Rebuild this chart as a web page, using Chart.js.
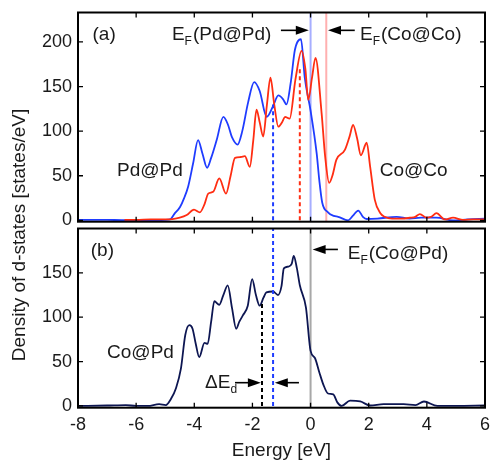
<!DOCTYPE html>
<html>
<head>
<meta charset="utf-8">
<script src="https://cdn.jsdelivr.net/npm/chart.js@4/dist/chart.umd.min.js"></script>
<style>
  html, body { margin: 0; padding: 0; background: #fff; }
  #wrap { position: relative; width: 490px; height: 460px; }
  #wrap canvas { position: absolute; left: 0; top: 0; }
</style>
</head>
<body>
<div id="wrap">
  <canvas id="chartB" width="490" height="460"></canvas>
  <canvas id="chartA" width="490" height="232"></canvas>
</div>
<script>
// tick values
const xTicks = [-8, -6, -4, -2, 0, 2, 4, 6]
const yTicksA = [0, 50, 100, 150, 200]
const yTicksB = [0, 50, 100, 150]

// (a) Pd@Pd d-DOS
const pdPdE = [-8, -7.5, -7, -6.5, -6, -5.5, -5, -4.83, -4.69, -4.49, -4.35, -4.21, -4.04, -3.87, -3.72, -3.56, -3.42,
  -3.23, -3.0, -2.85, -2.7, -2.51, -2.35, -2.15, -1.94, -1.75, -1.51, -1.29, -1.11, -0.95, -0.83, -0.68, -0.54, -0.33, -0.2, 0, 0.21,
  0.3, 0.4, 0.6, 0.8, 0.95, 1.29, 1.45, 1.64, 1.8, 1.93, 2.3, 2.96, 3.4, 3.8, 4.33, 4.9, 5.4, 6]
const pdPdDos = [0.5, 0.5, 0.5, 0.3, 0.3, 0.3, 0.5, 1, 7, 15, 25, 38, 64, 90, 75, 59, 70,
  90, 116, 108, 93, 85, 100, 132, 155, 145, 116, 128, 140, 136, 130, 155, 191, 203, 160, 123, 75,
  45, 20, 9, 5, 4, 0, 5, 11, 4, 1.5, 2, 4, 2, 3, 3, 0, 1, 2]

// (a) Co@Co d-DOS
const coCoE = [-6.4, -6, -5.5, -5, -4.75, -4.5, -4.26, -4.01, -3.81, -3.65, -3.52, -3.35, -3.14, -2.91, -2.75, -2.6, -2.4, -2.26,
  -2.09, -1.97, -1.86, -1.75, -1.63, -1.5, -1.38, -1.25, -1.11, -0.98, -0.88, -0.72, -0.52, -0.31, -0.18, -0.08, 0.05, 0.17,
  0.38, 0.5, 0.64, 0.75, 0.89, 1.18, 1.35, 1.46, 1.6, 1.73, 1.93, 2.05, 2.21, 2.4, 2.55, 2.8, 3.1, 3.43, 3.6, 3.76, 3.99,
  4.15, 4.33, 4.62, 4.9, 5.25, 5.6, 5.97]
const coCoDos = [0.5, 0.5, 1, 1, 1.5, 3, 6, 12, 9, 18, 30, 32, 47, 30, 50, 70, 71, 72,
  60, 90, 124, 110, 94, 130, 160, 130, 105, 110, 116, 114, 158, 190, 170, 135, 160, 182,
  120, 72, 42, 50, 68, 79, 95, 107, 92, 73, 87, 60, 23, 8, 4, 2, 2, 3, 4, 7, 3,
  4, 8, 1, 3, 0.5, 1, 1]

// (b) Co@Pd d-DOS
const coPdE = [-8, -7, -6.36, -6, -5.6, -5.21, -4.98, -4.8, -4.63, -4.46, -4.31, -4.17, -4.06, -3.95, -3.83, -3.65, -3.54, -3.42,
  -3.31, -3.14, -3.0, -2.85, -2.7, -2.56, -2.45, -2.33, -2.16, -2.01, -1.88, -1.75, -1.62, -1.52, -1.29, -1.12, -1.0, -0.92,
  -0.77, -0.65, -0.58, -0.47, -0.37, -0.16, 0, 0.15, 0.3, 0.44, 0.6, 0.78, 0.92, 1.07, 1.36, 1.71, 2.05, 2.51, 3.2, 3.61,
  3.9, 4.36, 5, 6]
const coPdDos = [0, 0.5, 1, 0, 0, 2, 1, 8, 20, 42, 80, 91, 87, 70, 55, 71, 70, 95,
  118, 114, 125, 136, 110, 87, 95, 102, 113, 143, 125, 113, 122, 128, 129, 125, 135, 155,
  157, 160, 169, 155, 136, 111, 62, 54, 38, 24, 14, 13, 4, 0, 6, 5, 0.5, 2, 2, 1,
  5, 0, 0, 0.5]

// Fermi levels and d-band centres [eV], with the height where the dotted marker stops
const fermiCoCo = 0.54
const centrePdPd = -1.29, centrePdPdTop = 130
const centreCoCo = -0.37, centreCoCoTop = 170
const centreCoPd = -1.67, centreCoPdTop = 116

const font = 'Liberation Sans, Arial, Helvetica, sans-serif'
const ink = '#1a1a1a'
const blue = '#1f3cff'
const red = '#ff2d12'
const navy = '#0d1652'

const pts = (xs, ys) => xs.map((x, i) => ({x: x, y: ys[i]}))
const vline = (x, y0, y1) => [{x: x, y: y0}, {x: x, y: y1}]

function curve(data, color, order) {
    return {data: data, borderColor: color, borderWidth: 1.8, pointRadius: 0, cubicInterpolationMode: 'monotone', order: order}
}
function marker(data, color, width, dash, order) {
    return {data: data, borderColor: color, borderWidth: width, borderDash: dash, pointRadius: 0, tension: 0, order: order}
}

function drawArrow(ctx, x0, x1, y) {
    const dir = Math.sign(x1 - x0)
    ctx.beginPath()
    ctx.moveTo(x0, y)
    ctx.lineTo(x1 - dir * 10, y)
    ctx.stroke()
    ctx.beginPath()
    ctx.moveTo(x1, y)
    ctx.lineTo(x1 - dir * 13, y - 4.5)
    ctx.lineTo(x1 - dir * 13, y + 4.5)
    ctx.closePath()
    ctx.fill()
}

function drawLabel(ctx, x, y, l) {
    ctx.font = '19px ' + font
    ctx.fillText(l.text, x, y)
    let w = ctx.measureText(l.text).width
    if (l.sub) {
        ctx.font = '12px ' + font
        ctx.fillText(l.sub, x + w, y + 5)
        w += ctx.measureText(l.sub).width + 1
    }
    if (l.after) {
        ctx.font = '19px ' + font
        ctx.fillText(l.after, x + w, y)
    }
}

const decor = {
    id: 'decor',
    afterDatasetsDraw(chart, args, o) {
        const {ctx, chartArea: a} = chart
        const x = chart.scales.x, y = chart.scales.y
        ctx.save()
        ctx.strokeStyle = '#000'
        ctx.lineWidth = 1.3
        ctx.beginPath()
        xTicks.forEach(v => {
            const p = x.getPixelForValue(v)
            ctx.moveTo(p, a.bottom); ctx.lineTo(p, a.bottom - 5)
            ctx.moveTo(p, a.top); ctx.lineTo(p, a.top + 5)
        })
        o.yTicks.forEach(v => {
            const p = y.getPixelForValue(v)
            ctx.moveTo(a.left, p); ctx.lineTo(a.left + 5, p)
            ctx.moveTo(a.right, p); ctx.lineTo(a.right - 5, p)
        })
        ctx.stroke()
        ctx.lineWidth = 2
        ctx.strokeRect(a.left, a.top, a.right - a.left, a.bottom - a.top)

        ctx.fillStyle = ink
        ctx.textBaseline = 'alphabetic'
        ctx.textAlign = 'left'
        o.labels.forEach(l => drawLabel(ctx, x.getPixelForValue(l.x), y.getPixelForValue(l.y), l))
        ctx.fillStyle = '#000'
        ctx.strokeStyle = '#000'
        ctx.lineWidth = 1.6
        o.arrows.forEach(r => drawArrow(ctx, x.getPixelForValue(r.x0), x.getPixelForValue(r.x1), y.getPixelForValue(r.y)))

        if (o.yTitle) {
            ctx.translate(20, 235)
            ctx.rotate(-Math.PI / 2)
            ctx.font = '19px ' + font
            ctx.fillStyle = ink
            ctx.textAlign = 'center'
            ctx.textBaseline = 'middle'
            ctx.fillText(o.yTitle, 0, 0)
        }
        ctx.restore()
    }
}

function yAxis(min, max, ticks) {
    return {
        type: 'linear', min: min, max: max,
        grid: {display: false, drawTicks: false}, border: {display: false},
        ticks: {font: {family: font, size: 18}, color: ink, padding: 6},
        afterBuildTicks: s => { s.ticks = ticks.map(v => ({value: v})) },
        afterFit: s => { s.width = 78; s.paddingTop = 0; s.paddingBottom = 0 }
    }
}

new Chart(document.getElementById('chartA'), {
    type: 'line',
    data: {
        datasets: [
            marker(vline(centrePdPd, 0, centrePdPdTop), blue, 2, [4, 3], 0),
            marker(vline(centreCoCo, 0, centreCoCoTop), red, 2, [4, 3], 0),
            curve(pts(coCoE, coCoDos), red, 1),
            curve(pts(pdPdE, pdPdDos), blue, 2),
            marker(vline(0, -10, 300), 'rgba(120,130,255,0.65)', 2, [], 5),
            marker(vline(fermiCoCo, -10, 300), 'rgba(255,150,150,0.75)', 2, [], 5)
        ]
    },
    options: {
        responsive: false, animation: false, devicePixelRatio: 1,
        layout: {padding: {top: 12.5, right: 5, bottom: 10.3, left: 0}},
        scales: {
            x: {type: 'linear', min: -8, max: 6, display: false},
            y: yAxis(-1.5, 233, yTicksA)
        },
        plugins: {
            legend: {display: false}, tooltip: {enabled: false},
            decor: {
                yTicks: yTicksA,
                labels: [
                    {x: -7.5, y: 202.7, text: '(a)'},
                    {x: -4.77, y: 202.7, text: 'E', sub: 'F', after: '(Pd@Pd)'},
                    {x: 1.7, y: 202.7, text: 'E', sub: 'F', after: '(Co@Co)'},
                    {x: -6.66, y: 49.9, text: 'Pd@Pd'},
                    {x: 2.38, y: 49.9, text: 'Co@Co'}
                ],
                arrows: [
                    {x0: -1.02, x1: -0.06, y: 213},
                    {x0: 1.52, x1: 0.6, y: 213}
                ]
            }
        }
    },
    plugins: [decor]
})

new Chart(document.getElementById('chartB'), {
    type: 'line',
    data: {
        datasets: [
            marker(vline(centrePdPd, 0, 300), blue, 2, [4, 3], 0),
            marker(vline(centreCoPd, 0, centreCoPdTop), '#000', 2, [4, 3], 0),
            curve(pts(coPdE, coPdDos), navy, 1),
            marker(vline(0, -10, 300), '#a8a8a8', 2, [], 5)
        ]
    },
    options: {
        responsive: false, animation: false, devicePixelRatio: 1,
        layout: {padding: {top: 228.5, right: 5, bottom: 0, left: 0}},
        scales: {
            x: {
                type: 'linear', min: -8, max: 6,
                grid: {display: false, drawTicks: false}, border: {display: false},
                ticks: {font: {family: font, size: 18}, color: ink, padding: 7},
                afterBuildTicks: s => { s.ticks = xTicks.map(v => ({value: v})) },
                afterFit: s => { s.height = 52.3; s.paddingLeft = 0; s.paddingRight = 0 },
                title: {display: true, text: 'Energy [eV]', color: ink, font: {family: font, size: 19, lineHeight: 1}, padding: 0}
            },
            y: yAxis(-2, 200, yTicksB)
        },
        plugins: {
            legend: {display: false}, tooltip: {enabled: false},
            decor: {
                yTicks: yTicksB,
                yTitle: 'Density of d-states [states/eV]',
                labels: [
                    {x: -7.56, y: 168.5, text: '(b)'},
                    {x: 1.28, y: 166, text: 'E', sub: 'F', after: '(Co@Pd)'},
                    {x: -7.0, y: 53.6, text: 'Co@Pd'},
                    {x: -3.63, y: 19.9, text: '\u0394E', sub: 'd'}
                ],
                arrows: [
                    {x0: 0.94, x1: 0.07, y: 176.4},
                    {x0: -2.6, x1: -1.71, y: 26.2},
                    {x0: -0.4, x1: -1.23, y: 26.2}
                ]
            }
        }
    },
    plugins: [decor]
})
</script>
</body>
</html>
